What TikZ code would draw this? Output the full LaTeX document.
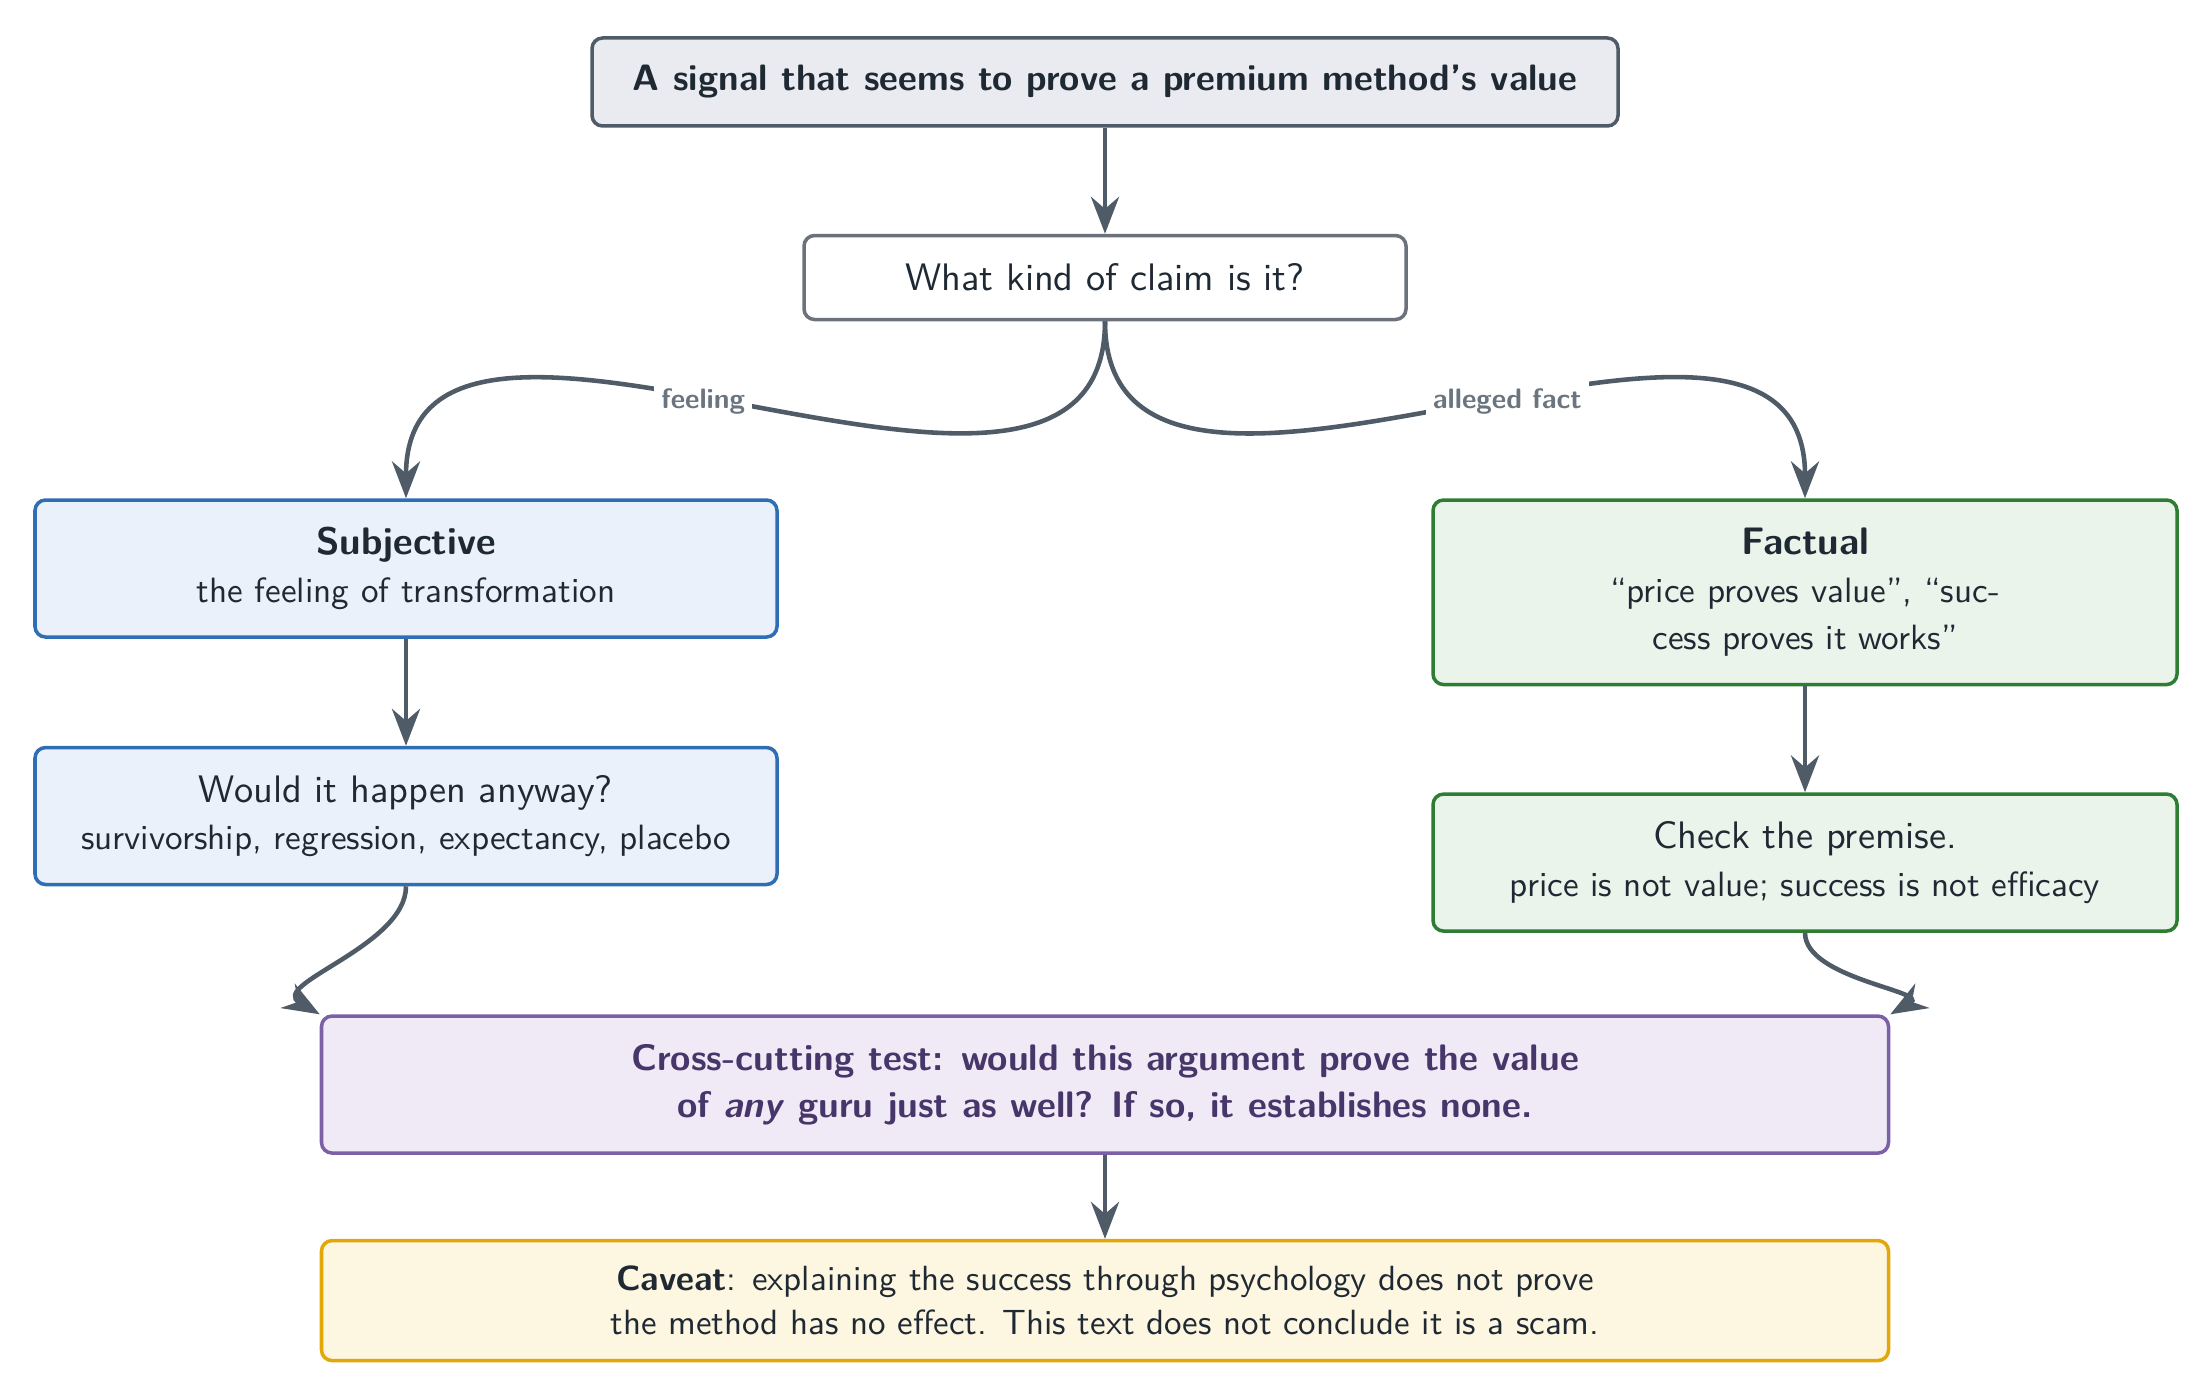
\RequirePackage{fix-cm}
\documentclass[tikz,border=0pt]{standalone}
\usetikzlibrary{positioning,arrows.meta}
\definecolor{ink}{HTML}{1F2933}
\definecolor{arrowc}{HTML}{4F5B67}
\definecolor{lblc}{HTML}{6B7580}
\definecolor{sigfill}{HTML}{E9EBF0}
\definecolor{kinddraw}{HTML}{6B727C}
\definecolor{subjdraw}{HTML}{2F6DB5}
\definecolor{subjfill}{HTML}{EAF1FA}
\definecolor{factdraw}{HTML}{2E7D32}
\definecolor{factfill}{HTML}{EAF4EB}
\definecolor{crossdraw}{HTML}{7B60A8}
\definecolor{crossfill}{HTML}{F0EAF7}
\definecolor{crossink}{HTML}{47366A}
\definecolor{cavdraw}{HTML}{E2A80A}
\definecolor{cavfill}{HTML}{FDF6E0}
\newcommand{\detail}[1]{{\fontsize{10}{12}\selectfont #1}}
\newcommand{\sentgap}[1]{\xspaceskip=#1 plus 1.5pt minus .4pt\relax}

\begin{document}
\begin{tikzpicture}[
      every node/.style={font=\sffamily\fontsize{10.9}{13.5}\selectfont\sentgap{4.6pt}},
      box/.style={draw,rounded corners=3pt,line width=1pt,align=center,text=ink},
      sig/.style={box,draw=arrowc,fill=sigfill,minimum width=10.26cm,minimum height=0.88cm,font=\sffamily\bfseries\fontsize{10.45}{13}\selectfont},
      ask/.style={box,draw=kinddraw,fill=white,minimum width=6.02cm,minimum height=0.84cm},
      subj/.style={box,draw=subjdraw,fill=subjfill,minimum width=7.42cm,minimum height=1.37cm},
      fact/.style={box,draw=factdraw,fill=factfill,minimum width=7.44cm,minimum height=1.37cm,inner ysep=8pt},
      cross/.style={box,draw=crossdraw,fill=crossfill,text=crossink,minimum width=15.67cm,minimum height=1.37cm,font=\sffamily\bfseries\fontsize{10.5}{13.5}\selectfont\sentgap{5pt}},
      cav/.style={box,draw=cavdraw,fill=cavfill,minimum width=15.67cm,minimum height=1.2cm,font=\sffamily\fontsize{9.95}{12.5}\selectfont\sentgap{4.4pt}},
      lbl/.style={pos=.55,fill=white,inner sep=2pt,text=lblc,font=\sffamily\bfseries\fontsize{8}{9}\selectfont},
      arr/.style={->,draw=arrowc,line width=1.3pt},
      >={Stealth[length=10.5pt,width=8pt]},
    ]
    \useasboundingbox (0,0) rectangle (22.12,-13.98);
    \node[sig] (sig) at (11.05,-0.82) {A signal that seems to prove a premium method's value};
    \node[ask, below=10.6mm of sig] (kind) {What kind of claim is it?};
    \node[subj, below=17.7mm of kind, xshift=-69.9mm] (subj) {\textbf{Subjective}\\ \detail{the feeling of transformation}};
    \node[fact, below=17.7mm of kind, xshift=70mm] (fact) {\textbf{Factual}\\ \detail{``price proves value'', ``suc-}\\ \detail{cess proves it works''}};
    \node[subj, below=10.7mm of subj] (anyway) {Would it happen anyway?\\ \detail{survivorship, regression, expectancy, placebo}};
    \node[fact, inner ysep=4pt, below=10.6mm of fact] (premise) {Check the premise.\\ \detail{price is not value; success is not efficacy}};
    \node[cross, anchor=north] (cross) at ([yshift=-12.8mm]anyway.south -| kind) {Cross-cutting test: would this argument prove the value\\ of \textit{any} guru just as well? If so, it establishes none.};
    \node[cav, below=8.4mm of cross] (cav) {\textbf{Caveat}: explaining the success through psychology does not prove\\ the method has no effect. This text does not conclude it is a scam.};

    % two kinds of claim
    \draw[arr] (sig) -- (kind);
    \draw[arr] (kind.south) to[out=-90,in=90,looseness=1.05] node[lbl]{feeling} (subj.north);
    \draw[arr] (kind.south) to[out=-90,in=90,looseness=1.05] node[lbl]{alleged fact} (fact.north);
    \draw[arr] (subj) -- (anyway);
    \draw[arr] (fact) -- (premise);
    % both branches meet in the common test
    \draw[arr] (anyway.south) to[out=-90,in=150] (cross.north west);
    \draw[arr] (premise.south) to[out=-90,in=30] (cross.north east);
    \draw[arr] (cross) -- (cav);
  \end{tikzpicture}
\end{document}
